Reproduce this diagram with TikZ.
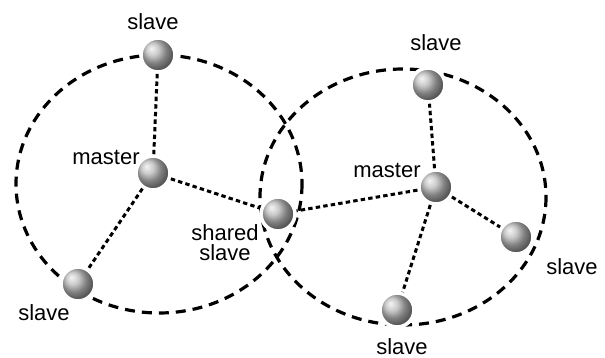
\documentclass[tikz,border=0pt]{standalone}
\usepackage{fontspec}
\setmainfont{Liberation Sans}
\usepackage{tikz}
\usetikzlibrary{shapes, positioning, calc}

\tikzset{
  ballnode/.style={circle, minimum size=17pt, inner sep=0pt, draw=white, line width=1.8pt,
    shading=ball, ball color=gray!55},
  txt/.style={font=\fontsize{11}{12}\selectfont, inner sep=1pt, align=center},
  link/.style={line width=1.5pt, dash pattern=on 2.2pt off 1.6pt},
  ring/.style={line width=1.6pt, dash pattern=on 5pt off 3.5pt}
}

\begin{document}
\begin{tikzpicture}[x=0.5pt, y=-0.5pt]
\useasboundingbox (0,0) rectangle (605,358);

% the two groups
\draw[ring] (159,184) ellipse [x radius=143, y radius=129];
\draw[ring] (403,197) ellipse [x radius=143, y radius=128];

% left group
\node[ballnode] (masterA) at (153,173) {};
\node[ballnode] (slaveAtop) at (158,55) {};
\node[ballnode] (slaveAbot) at (78,284) {};
\node[ballnode] (shared) at (278,214) {};

% right group
\node[ballnode] (masterB) at (436,187) {};
\node[ballnode] (slaveBtop) at (428,85) {};
\node[ballnode] (slaveBright) at (516,237) {};
\node[ballnode] (slaveBbot) at (397,310) {};

\draw[link] (masterA) -- (slaveAtop);
\draw[link] (masterA) -- (slaveAbot);
\draw[link] (masterA) -- (shared);
\draw[link] (masterB) -- (shared);
\draw[link] (masterB) -- (slaveBtop);
\draw[link] (masterB) -- (slaveBright);
\draw[link] (masterB) -- (slaveBbot);

% labels
\node[txt] (lAtop) at (153,22) {slave};
\node[txt] (lAmaster) at (106,157) {master};
\node[txt] (lshared) at (225,243) {shared\\[-2pt]slave};
\node[txt] (lAbot) at (44,313) {slave};
\node[txt] (lBtop) at (436,43) {slave};
\node[txt] (lBmaster) at (387,170) {master};
\node[txt] (lBright) at (572,267) {slave};
\node[txt] (lBbot) at (402,347) {slave};
\end{tikzpicture}
\end{document}
